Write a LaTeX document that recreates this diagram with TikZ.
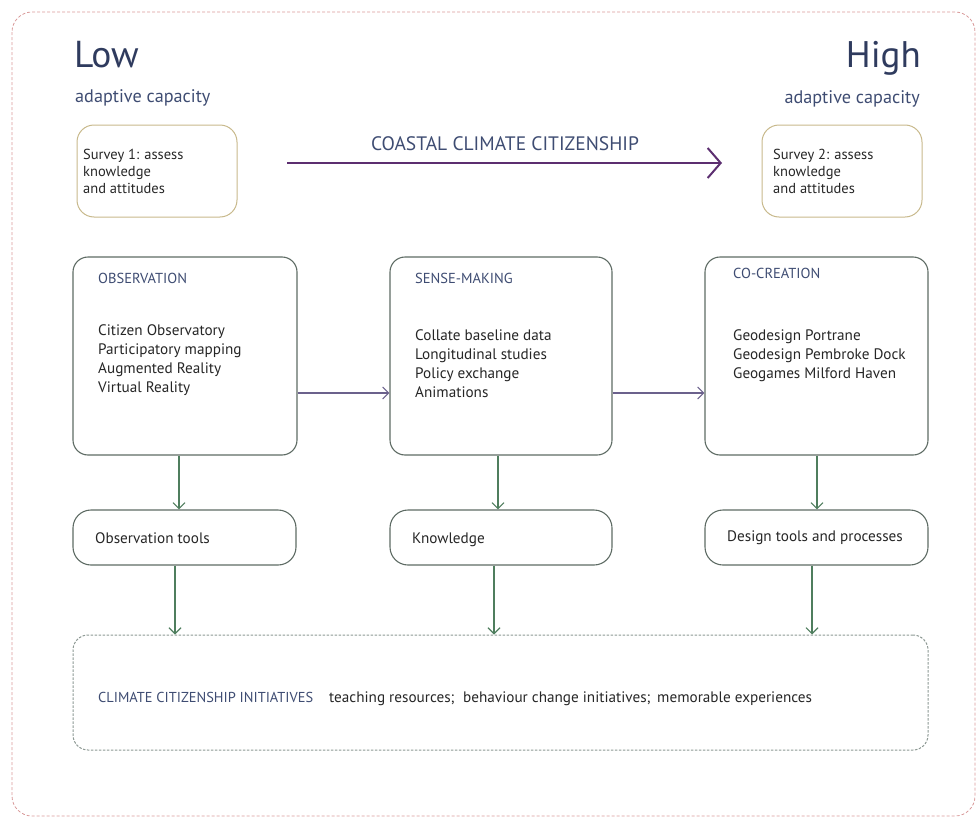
\documentclass[tikz,border=0pt]{standalone}
\usepackage{fontspec}
\setmainfont{PT Sans}
\usetikzlibrary{arrows.meta}
\definecolor{frameC}{HTML}{D99A9A}
\definecolor{surveyC}{HTML}{C8B98C}
\definecolor{boxC}{HTML}{5E6B64}
\definecolor{greenA}{HTML}{4F7E5E}
\definecolor{purpleA}{HTML}{5C2E70}
\definecolor{purpleG}{HTML}{6B618C}
\definecolor{dashC}{HTML}{8C9893}
\definecolor{navy}{HTML}{2F3B5E}
\definecolor{navyL}{HTML}{3E4C72}
\tikzset{
  mainbox/.style={draw=boxC, line width=1.1pt, rounded corners=15pt, minimum width=223pt, minimum height=198pt},
  toolbox/.style={draw=boxC, line width=1.1pt, rounded corners=18pt, minimum width=223pt, minimum height=55pt},
  surveybox/.style={draw=surveyC, line width=1pt, rounded corners=17pt, minimum width=160pt, minimum height=92pt},
  txt/.style={anchor=base west, inner sep=0pt, font=\fontsize{15.2}{19}\selectfont, text=black!85},
  ttl/.style={anchor=base west, inner sep=0pt, font=\fontsize{14.5}{17}\selectfont, text=navyL},
  stxt/.style={anchor=base west, inner sep=0pt, font=\fontsize{14.5}{17}\selectfont, text=black!85},
  tooltxt/.style={inner sep=0pt, font=\fontsize{15.2}{18}\selectfont, text=black!85},
  garrow/.style={draw=greenA, line width=1.1pt, -{Straight Barb[length=6pt,width=12pt]}},
  parrow/.style={draw=purpleG, line width=1.1pt, -{Straight Barb[length=6pt,width=12pt]}},
}
\begin{document}
\begin{tikzpicture}[x=1pt,y=-1pt]
\useasboundingbox (0,0) rectangle (978,819);
% outer frame
\draw[frameC, line width=0.8pt, dash pattern=on 3pt off 2pt, rounded corners=20pt] (12,12) rectangle (975,816);

% headings
\node[anchor=base west, inner sep=0pt, font=\fontsize{37.5}{42}\selectfont, text=navy] (low) at (74,67) {Low};
\node[anchor=base west, inner sep=0pt, font=\fontsize{18.2}{21}\selectfont, text=navyL] (lowcap) at (75,102) {adaptive capacity};
\node[anchor=base east, inner sep=0pt, font=\fontsize{37}{42}\selectfont, text=navy] (high) at (921,67) {High};
\node[anchor=base east, inner sep=0pt, font=\fontsize{18.2}{21}\selectfont, text=navyL] (highcap) at (920,103) {adaptive capacity};

% surveys
\node[surveybox] (s1) at (157,171) {};
\node[stxt] (s1a) at (83,159) {Survey 1: assess};
\node[stxt] (s1b) at (83,176) {knowledge};
\node[stxt] (s1c) at (83,193) {and attitudes};
\node[surveybox] (s2) at (842,171) {};
\node[stxt] (s2a) at (773,159) {Survey 2: assess};
\node[stxt] (s2b) at (773,176) {knowledge};
\node[stxt] (s2c) at (773,193) {and attitudes};

% big arrow
\coordinate (bigA) at (287,163);
\coordinate (bigB) at (722,163);
\draw[purpleA, line width=2pt, -{Straight Barb[length=13pt,width=30pt,line width=2pt]}] (bigA) -- (bigB);
\node[anchor=base, inner sep=0pt, font=\fontsize{19.5}{22}\selectfont, text=navyL] (coastal) at (505,150) {COASTAL CLIMATE CITIZENSHIP};

% main boxes
\node[mainbox, minimum width=224pt] (obs) at (185,356) {};
\node[mainbox, minimum width=222pt] (sense) at (501,356) {};
\node[mainbox] (co) at (816.5,356) {};

\node[ttl] (obsT) at (98,283) {OBSERVATION};
\node[txt] (obs1) at (98,335) {Citizen Observatory};
\node[txt] (obs2) at (98,354) {Participatory mapping};
\node[txt] (obs3) at (98,373) {Augmented Reality};
\node[txt] (obs4) at (98,392) {Virtual Reality};

\node[ttl] (senseT) at (415,283) {SENSE-MAKING};
\node[txt] (sen1) at (415,340) {Collate baseline data};
\node[txt] (sen2) at (415,359) {Longitudinal studies};
\node[txt] (sen3) at (415,378) {Policy exchange};
\node[txt] (sen4) at (415,397) {Animations};

\node[ttl] (coT) at (733,278) {CO-CREATION};
\node[txt] (co1) at (733,340) {Geodesign Portrane};
\node[txt] (co2) at (733,359) {Geodesign Pembroke Dock};
\node[txt] (co3) at (733,378) {Geogames Milford Haven};

\draw[parrow] ([yshift=-37pt]obs.east) -- ([yshift=-37pt]sense.west);
\draw[parrow] ([yshift=-37pt]sense.east) -- ([yshift=-37pt]co.west);

% tool boxes
\node[toolbox] (obsTool) at (184.5,537.5) {};
\node[toolbox, minimum width=222pt] (know) at (501,537.5) {};
\node[toolbox] (design) at (816.5,537.5) {};
\node[tooltxt, anchor=base west] (obsToolT) at (95,543) {Observation tools};
\node[tooltxt, anchor=base west] (knowT) at (412,543) {Knowledge};
\node[tooltxt, anchor=base] (designT) at (815,541) {Design tools and processes};

\draw[garrow] ([xshift=-6pt]obs.south) -- ([xshift=-6pt]obs.south |- obsTool.north);
\draw[garrow] ([xshift=-3pt]sense.south) -- ([xshift=-3pt]sense.south |- know.north);
\draw[garrow] ([xshift=0.5pt]co.south) -- ([xshift=0.5pt]co.south |- design.north);

% initiatives box
\node[draw=dashC, line width=1pt, dash pattern=on 2.5pt off 1.5pt, rounded corners=15pt, minimum width=855pt, minimum height=115pt] (init) at (500.5,692.5) {};
\node[anchor=base west, inner sep=0pt, font=\fontsize{14.4}{17}\selectfont, text=navyL] (initT) at (98,702) {CLIMATE CITIZENSHIP INITIATIVES};
\node[tooltxt, anchor=base west] (i1) at (329,702) {teaching resources;};
\node[tooltxt, anchor=base west] (i2) at (463,702) {behaviour change initiatives;};
\node[tooltxt, anchor=base west] (i3) at (657,702) {memorable experiences};

\draw[garrow] ([xshift=-9.5pt]obsTool.south) -- ([xshift=-9.5pt]obsTool.south |- init.north);
\draw[garrow] ([xshift=-7pt]know.south) -- ([xshift=-7pt]know.south |- init.north);
\draw[garrow] ([xshift=-4.5pt]design.south) -- ([xshift=-4.5pt]design.south |- init.north);
\end{tikzpicture}
\end{document}
